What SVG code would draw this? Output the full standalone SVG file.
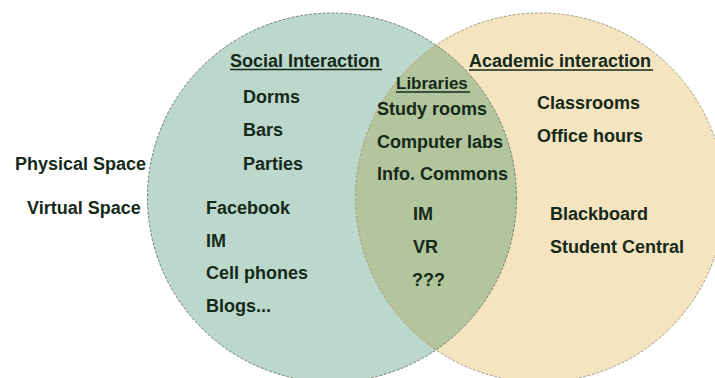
<svg xmlns="http://www.w3.org/2000/svg" width="715" height="378" viewBox="0 0 715 378">
  <style>
    .t { font-family: "Liberation Sans", Arial, sans-serif; font-weight: bold; font-size: 18px; fill: #15291a; }
    .ul { stroke: #15291a; stroke-width: 1.5; }
    .edge { fill: none; stroke-width: 1; stroke-dasharray: 3 1.5; }
  </style>
  <rect width="715" height="378" fill="#ffffff"/>
  <g id="social-circle">
    <circle cx="332" cy="197.5" r="184.5" fill="#bcd7cb"/>
  </g>
  <g id="academic-circle">
    <circle cx="540" cy="197.5" r="184.5" fill="#f4e4bf"/>
  </g>
  <g id="overlap">
    <path d="M436 45.1 A184.5 184.5 0 0 1 436 349.9 A184.5 184.5 0 0 1 436 45.1 Z" fill="#b2c59c"/>
  </g>
  <g id="edges">
    <circle class="edge" cx="540" cy="197.5" r="184.5" stroke="#a89e80"/>
    <circle class="edge" cx="332" cy="197.5" r="184.5" stroke="#6f7f72"/>
  </g>
  <g id="row-labels">
    <text class="t" x="15" y="170">Physical Space</text>
    <text class="t" x="27" y="214">Virtual Space</text>
  </g>
  <g id="social">
    <text class="t" x="230" y="67">Social Interaction</text>
    <line class="ul" x1="230" y1="69.5" x2="382" y2="69.5"/>
    <text class="t" x="243" y="103">Dorms</text>
    <text class="t" x="243" y="136">Bars</text>
    <text class="t" x="243" y="170">Parties</text>
    <text class="t" x="206" y="213.5">Facebook</text>
    <text class="t" x="206" y="246.5">IM</text>
    <text class="t" x="206" y="279">Cell phones</text>
    <text class="t" x="206" y="312">Blogs...</text>
  </g>
  <g id="libraries">
    <text class="t" x="396" y="89" style="font-size:17px">Libraries</text>
    <line class="ul" x1="396" y1="92" x2="470" y2="92"/>
    <text class="t" x="377" y="115">Study rooms</text>
    <text class="t" x="377" y="147.5">Computer labs</text>
    <text class="t" x="377" y="179.5">Info. Commons</text>
    <text class="t" x="413" y="220">IM</text>
    <text class="t" x="413" y="253">VR</text>
    <text class="t" x="412" y="286">???</text>
  </g>
  <g id="academic">
    <text class="t" x="469" y="67">Academic interaction</text>
    <line class="ul" x1="469" y1="70" x2="653" y2="70"/>
    <text class="t" x="537" y="109">Classrooms</text>
    <text class="t" x="537" y="142">Office hours</text>
    <text class="t" x="550" y="220">Blackboard</text>
    <text class="t" x="550" y="253">Student Central</text>
  </g>
</svg>
